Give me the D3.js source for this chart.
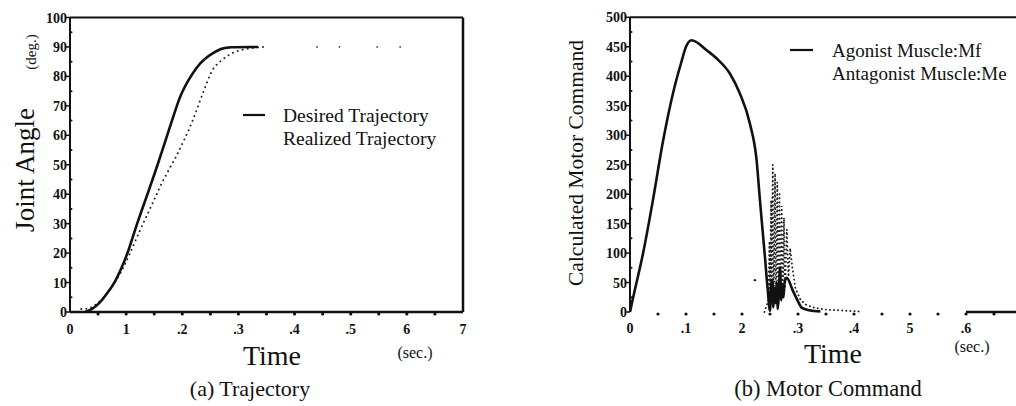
<!DOCTYPE html>
<html>
<head>
<meta charset="utf-8">
<script src="https://cdn.jsdelivr.net/npm/d3@7"></script>
<style>
  body { margin: 0; background: #fff; }
  svg { display: block; }
  text { font-family: "Liberation Serif", "Times New Roman", serif; fill: #111; }
</style>
</head>
<body>
<div id="chart"></div>
<script>
// (a) trajectory, time in units of 0.1 sec
const desiredTime  = [0.27, 0.4, 0.53, 0.65, 0.8, 0.92, 1.03, 1.2, 1.4, 1.57, 1.74, 1.9, 1.99, 2.1, 2.26, 2.4, 2.55, 2.68, 2.8, 3.35];
const desiredAngle = [0, 1, 3, 6, 10, 15, 20, 30.5, 41, 50.5, 60.5, 70, 74.5, 78.5, 83.3, 86, 88, 89.3, 90, 90];
const realizedTime  = [0.2, 0.35, 0.5, 0.7, 0.9, 1.05, 1.25, 1.4, 1.52, 1.6, 1.75, 1.9, 2.02, 2.17, 2.32, 2.46, 2.55, 2.67, 2.8, 2.94, 3.12, 3.39, 3.45];
const realizedAngle = [1, 1, 3, 7, 13, 19, 28, 34, 39, 42.5, 48, 53, 58, 64, 72, 79, 83, 85, 87, 88.5, 89.3, 90, 90];
const realizedTailTime  = [4.4, 4.8, 5.47, 5.88];
const realizedTailAngle = [90, 90, 90, 90];

// (b) motor command
const agonistTime = [0, 0.05, 0.1, 0.23, 0.41, 0.59, 0.77, 0.92, 1.0, 1.1, 1.37, 1.55, 1.78, 1.96, 2.14, 2.26, 2.32, 2.41, 2.46, 2.5,
  2.52, 2.54, 2.56, 2.58, 2.6, 2.62, 2.64, 2.66, 2.68, 2.7, 2.72, 2.74, 2.76, 2.8, 2.9, 3.0, 3.07, 3.2, 3.4, 3.5,
  6.0, 7.0];
const agonistValue = [0, 22, 43, 98, 190, 290, 372, 425, 450, 461, 444, 430, 405, 371, 320, 258, 190, 93, 37, 2,
  45, 55, 8, 40, 15, 50, 5, 35, 76, 20, 45, 25, 50, 58, 38, 18, 7, 3, 1, null,
  0, 0];
const antagonistTime = [2.4, 2.47, 2.49, 2.5, 2.52, 2.53, 2.55, 2.56, 2.57, 2.59, 2.6, 2.61, 2.63, 2.64, 2.65, 2.67, 2.68, 2.69, 2.71, 2.72,
  2.73, 2.75, 2.76, 2.77, 2.8, 2.83, 2.86, 2.9, 2.95, 3.0, 3.05, 3.15, 3.3, 3.5, 3.7, 3.9, 4.1];
const antagonistValue = [0, 20, 120, 30, 190, 40, 250, 60, 40, 235, 70, 30, 220, 80, 40, 200, 60, 30, 180, 50,
  30, 160, 60, 40, 140, 60, 108, 75, 42, 30, 20, 12, 7, 4, 3, 2, 1];
const antagonistStrayTime  = [2.23];
const antagonistStrayValue = [54];

const trajXLabels  = ['0', '1', '.2', '.3', '.4', '.5', '6', '7'];
const trajYTicks   = [0, 10, 20, 30, 40, 50, 60, 70, 80, 90, 100];
const motorXLabels = ['0', '.1', '2', '.3', '.4', '5', '.6'];
const motorYTicks  = [0, 50, 100, 150, 200, 250, 300, 350, 400, 450, 500];

const WIDTH = 1016, HEIGHT = 406;
const svg = d3.select('#chart').append('svg').attr('width', WIDTH).attr('height', HEIGHT);

const zip = (xs, ys) => xs.map((x, i) => ({ x: x, y: ys[i] }));

// ---------- (a) Trajectory ----------
(function () {
  const x = d3.scaleLinear().domain([0, 7]).range([70, 463]);
  const y = d3.scaleLinear().domain([0, 100]).range([312, 17.5]);
  const g = svg.append('g');

  // frame
  g.append('line').attr('x1', 70).attr('x2', 463).attr('y1', y(100)).attr('y2', y(100)).attr('stroke', '#111').attr('stroke-width', 2);
  g.append('line').attr('x1', x(7)).attr('x2', x(7)).attr('y1', y(100)).attr('y2', y(0)).attr('stroke', '#111').attr('stroke-width', 2.5);
  g.append('line').attr('x1', x(0)).attr('x2', x(7)).attr('y1', y(0)).attr('y2', y(0)).attr('stroke', '#111').attr('stroke-width', 2.5);
  g.append('line').attr('x1', x(0)).attr('x2', x(0)).attr('y1', y(100)).attr('y2', y(0)).attr('stroke', '#111').attr('stroke-width', 2);

  // y ticks
  g.selectAll('.ytick').data(trajYTicks).enter().append('line')
    .attr('x1', x(0) - 4).attr('x2', x(0)).attr('y1', d => y(d)).attr('y2', d => y(d))
    .attr('stroke', '#111').attr('stroke-width', 1.5);
  g.selectAll('.yminor').data(trajYTicks.slice(0, -1)).enter().append('circle')
    .attr('cx', x(0) + 1.5).attr('cy', d => y(d + 5)).attr('r', 1).attr('fill', '#111');
  g.selectAll('.ylab').data(trajYTicks).enter().append('text')
    .attr('x', x(0) - 3).attr('y', d => y(d) + 5)
    .attr('text-anchor', 'end').style('font-size', '14px').style('font-weight', 'bold')
    .text(d => d);

  // x ticks (dots every 0.05 sec)
  g.selectAll('.xdot').data(d3.range(1, 14)).enter().append('circle')
    .attr('cx', d => x(d / 2)).attr('cy', y(0) + 2).attr('r', 1.6).attr('fill', '#111');
  g.selectAll('.xlab').data(trajXLabels).enter().append('text')
    .attr('x', (d, i) => x(i)).attr('y', 334)
    .attr('text-anchor', 'middle').style('font-size', '14px').style('font-weight', 'bold')
    .text(d => d);

  // curves
  const line = d3.line().x(d => x(d.x)).y(d => y(d.y)).curve(d3.curveBasis);
  g.append('path').datum(zip(realizedTime, realizedAngle)).attr('d', line)
    .attr('fill', 'none').attr('stroke', '#222').attr('stroke-width', 1.9)
    .attr('stroke-dasharray', '0.1 5').attr('stroke-linecap', 'round');
  g.selectAll('.tail').data(zip(realizedTailTime, realizedTailAngle)).enter().append('circle')
    .attr('cx', d => x(d.x)).attr('cy', d => y(d.y)).attr('r', 0.9).attr('fill', '#444');
  g.append('path').datum(zip(desiredTime, desiredAngle)).attr('d', line)
    .attr('fill', 'none').attr('stroke', '#111').attr('stroke-width', 2.6);

  // legend
  g.append('line').attr('x1', 243).attr('x2', 265).attr('y1', 115).attr('y2', 115).attr('stroke', '#111').attr('stroke-width', 2.2);
  g.append('text').attr('x', 283).attr('y', 122).style('font-size', '19.5px').text('Desired Trajectory');
  g.append('text').attr('x', 283).attr('y', 145).style('font-size', '19.5px').text('Realized Trajectory');

  // axis titles
  g.append('text').attr('transform', 'translate(34,170) rotate(-90)').attr('text-anchor', 'middle')
    .style('font-size', '27px').text('Joint Angle');
  g.append('text').attr('transform', 'translate(36,52) rotate(-90)').attr('text-anchor', 'middle')
    .style('font-size', '15px').text('(deg.)');
  g.append('text').attr('x', 272).attr('y', 365).attr('text-anchor', 'middle').style('font-size', '28px').text('Time');
  g.append('text').attr('x', 415).attr('y', 358).attr('text-anchor', 'middle').style('font-size', '16px').text('(sec.)');
  g.append('text').attr('x', 250).attr('y', 396).attr('text-anchor', 'middle').style('font-size', '22px').text('(a) Trajectory');
})();

// ---------- (b) Motor Command ----------
(function () {
  const x = d3.scaleLinear().domain([0, 7]).range([630, 1022]);
  const y = d3.scaleLinear().domain([0, 500]).range([312, 17.3]);
  const g = svg.append('g');

  g.append('line').attr('x1', x(0)).attr('x2', WIDTH).attr('y1', y(500)).attr('y2', y(500)).attr('stroke', '#111').attr('stroke-width', 2);
  g.append('line').attr('x1', x(0)).attr('x2', x(0)).attr('y1', y(500)).attr('y2', y(0)).attr('stroke', '#111').attr('stroke-width', 2);

  g.selectAll('.ytick').data(motorYTicks).enter().append('line')
    .attr('x1', x(0) - 4).attr('x2', x(0)).attr('y1', d => y(d)).attr('y2', d => y(d))
    .attr('stroke', '#111').attr('stroke-width', 1.5);
  g.selectAll('.yminor').data(motorYTicks.slice(0, -1)).enter().append('circle')
    .attr('cx', x(0) + 1.5).attr('cy', d => y(d + 25)).attr('r', 1).attr('fill', '#111');
  g.selectAll('.ylab').data(motorYTicks).enter().append('text')
    .attr('x', x(0) - 3).attr('y', d => y(d) + 5)
    .attr('text-anchor', 'end').style('font-size', '14px').style('font-weight', 'bold')
    .text(d => d);

  g.selectAll('.xdot').data(d3.range(1, 14)).enter().append('circle')
    .attr('cx', d => x(d / 2)).attr('cy', y(0) + 2).attr('r', 1.6).attr('fill', '#111');
  g.selectAll('.xlab').data(motorXLabels).enter().append('text')
    .attr('x', (d, i) => x(i)).attr('y', 333)
    .attr('text-anchor', 'middle').style('font-size', '14px').style('font-weight', 'bold')
    .text(d => d);

  const line = d3.line().defined(d => d.y != null).x(d => x(d.x)).y(d => y(d.y));
  g.append('path').datum(zip(antagonistTime, antagonistValue)).attr('d', line)
    .attr('fill', 'none').attr('stroke', '#222').attr('stroke-width', 1.9)
    .attr('stroke-dasharray', '0.1 4').attr('stroke-linecap', 'round');
  g.selectAll('.stray').data(zip(antagonistStrayTime, antagonistStrayValue)).enter().append('circle')
    .attr('cx', d => x(d.x)).attr('cy', d => y(d.y)).attr('r', 1.2).attr('fill', '#222');
  g.append('path').datum(zip(agonistTime, agonistValue)).attr('d', line.curve(d3.curveMonotoneX))
    .attr('fill', 'none').attr('stroke', '#111').attr('stroke-width', 2.6).attr('stroke-linejoin', 'round');

  g.append('line').attr('x1', 790).attr('x2', 813).attr('y1', 50).attr('y2', 50).attr('stroke', '#111').attr('stroke-width', 2.2);
  g.append('text').attr('x', 832).attr('y', 57).style('font-size', '19px').text('Agonist Muscle:Mf');
  g.append('text').attr('x', 832).attr('y', 80).style('font-size', '19px').text('Antagonist Muscle:Me');

  g.append('text').attr('transform', 'translate(583,163) rotate(-90)').attr('text-anchor', 'middle')
    .style('font-size', '21.5px').text('Calculated Motor Command');
  g.append('text').attr('x', 833).attr('y', 363).attr('text-anchor', 'middle').style('font-size', '28px').text('Time');
  g.append('text').attr('x', 972).attr('y', 352).attr('text-anchor', 'middle').style('font-size', '16px').text('(sec.)');
  g.append('text').attr('x', 828).attr('y', 396).attr('text-anchor', 'middle').style('font-size', '22.5px').text('(b) Motor Command');
})();
</script>
</body>
</html>
